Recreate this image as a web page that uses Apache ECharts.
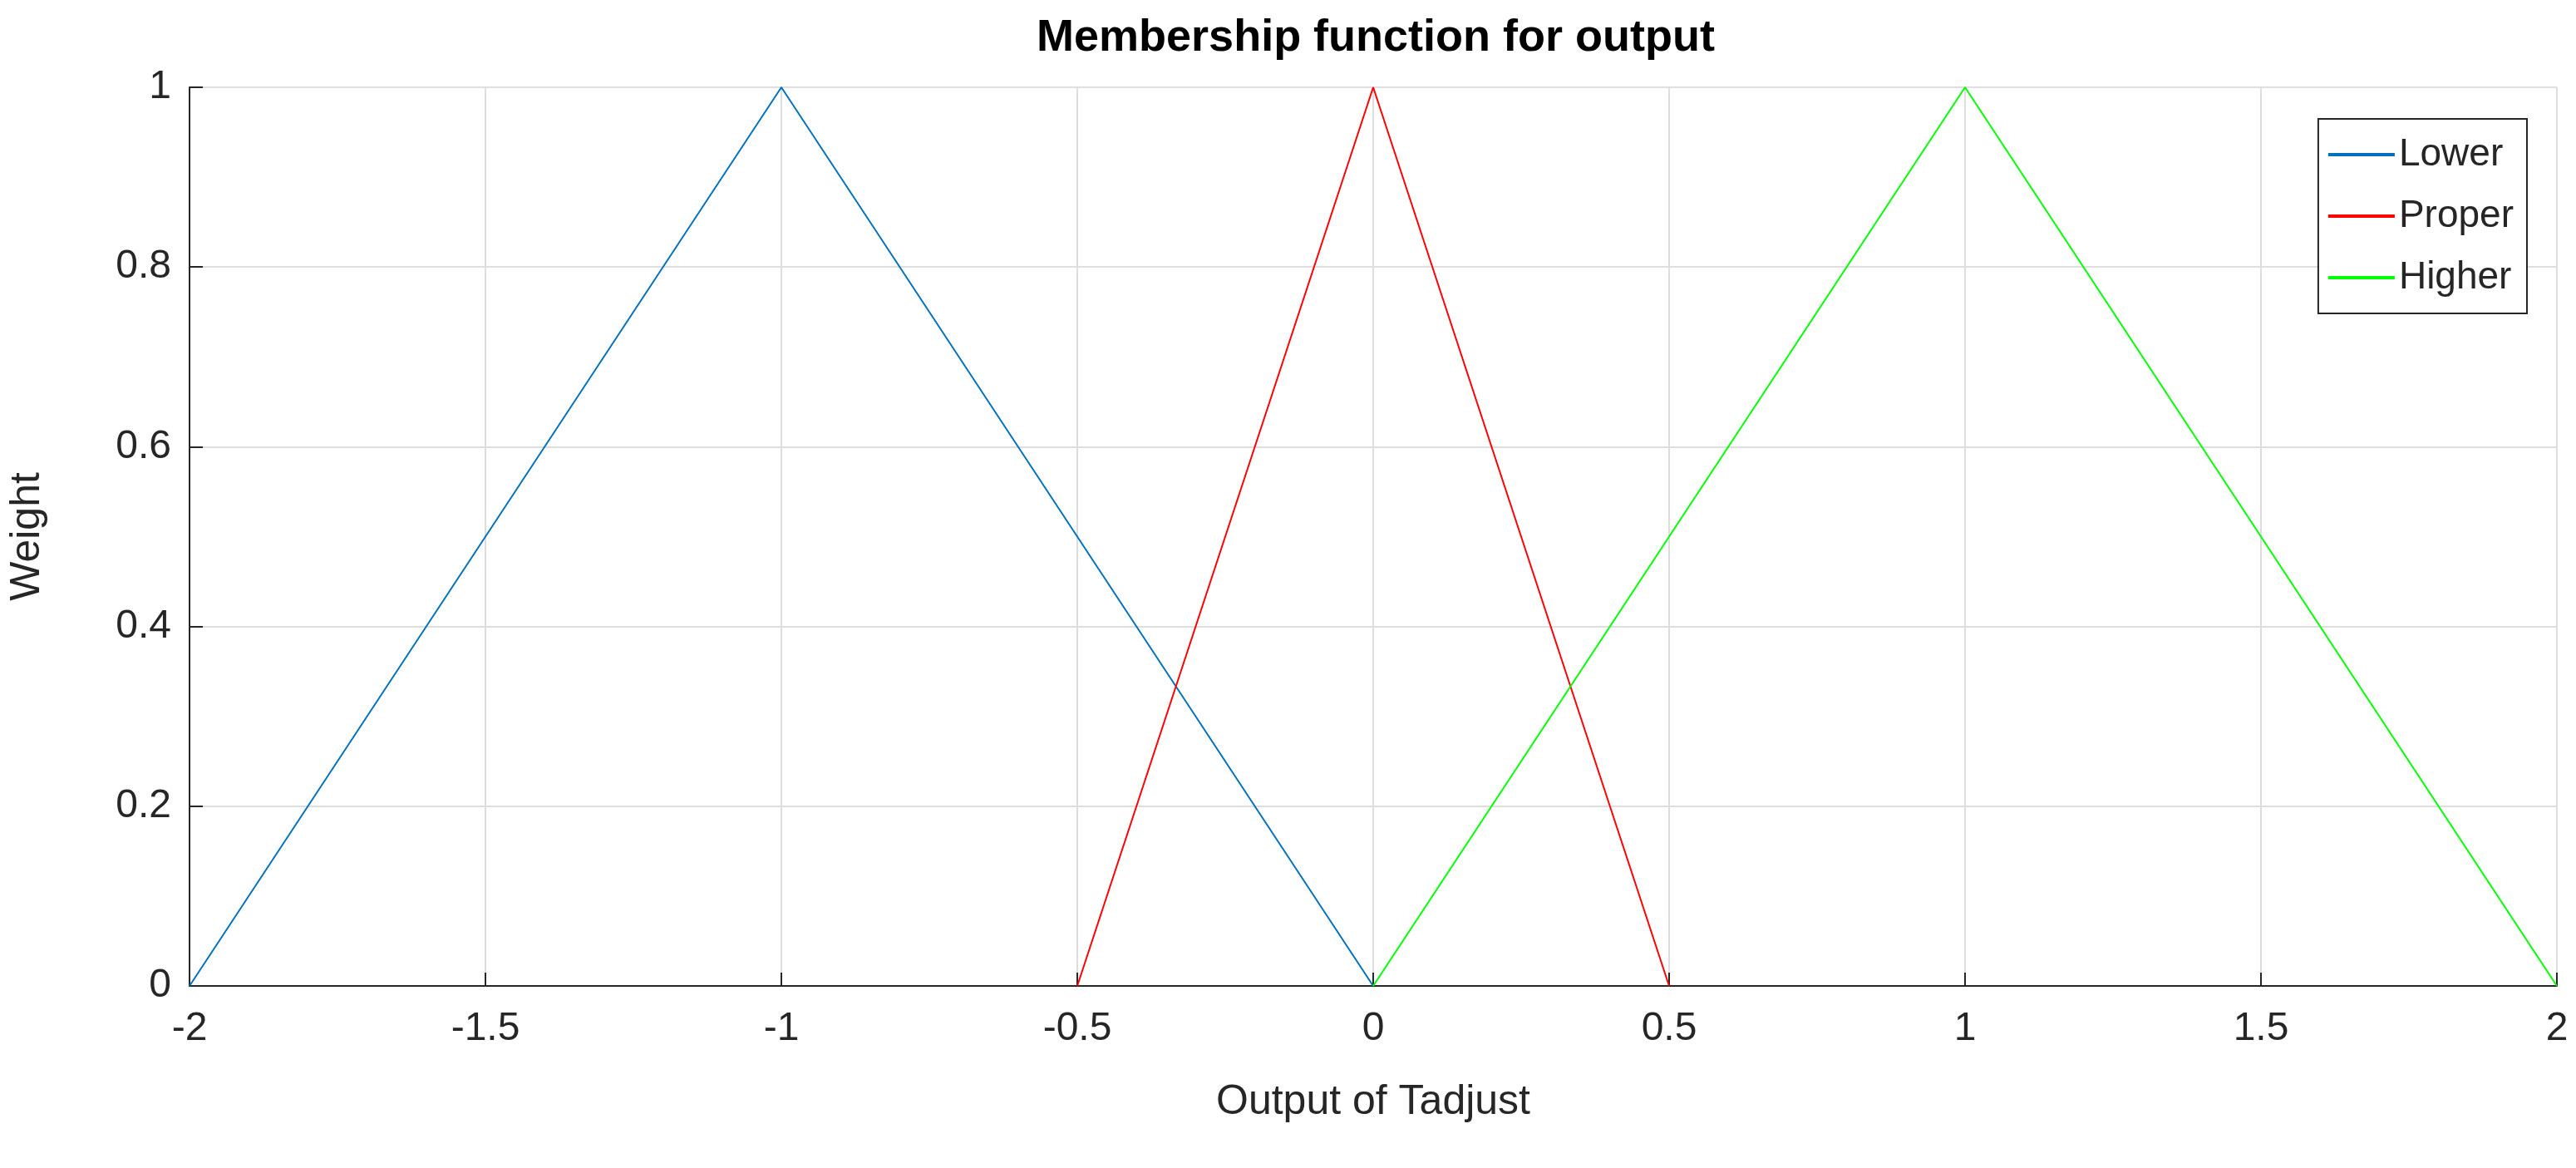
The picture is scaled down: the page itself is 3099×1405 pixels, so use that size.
<!DOCTYPE html>
<html>
<head>
<meta charset="utf-8">
<title>Membership function</title>
<script src="https://cdn.jsdelivr.net/npm/echarts@6/dist/echarts.min.js"></script>
<style>html,body{margin:0;background:#fff}</style>
</head>
<body>
<div id="main" style="width:3099px;height:1405px;"></div>
<script>
var xTicks = [-2, -1.5, -1, -0.5, 0, 0.5, 1, 1.5, 2];
var lowerPts = [[-2, 0], [-1, 1], [0, 0]];
var properPts = [[-0.5, 0], [0, 1], [0.5, 0]];
var higherPts = [[0, 0], [1, 1], [2, 0]];

var chart = echarts.init(document.getElementById('main'));
var font = 'Arial, "Liberation Sans", sans-serif';
var option = {
  animation: false,
  title: {
    text: 'Membership function for output',
    left: 1650, top: 14, textAlign: 'center',
    textStyle: {fontFamily: font, fontWeight: 'bold', fontSize: 54, color: '#000'}
  },
  legend: {
    right: 59, top: 143, orient: 'vertical',
    backgroundColor: '#fff', borderColor: '#262626', borderWidth: 2,
    padding: [20, 16, 20, 12], itemGap: 28,
    itemWidth: 80, itemHeight: 4, icon: 'rect',
    textStyle: {fontFamily: font, fontSize: 46, color: '#262626'},
    data: ['Lower', 'Proper', 'Higher']
  },
  grid: {left: 225, right: 23, top: 105, bottom: 219},
  xAxis: {
    type: 'value', min: -2, max: 2, interval: 0.5,
    name: 'Output of Tadjust', nameLocation: 'middle', nameGap: 115,
    nameTextStyle: {fontFamily: font, fontSize: 50, color: '#262626'},
    axisLine: {show: true, onZero: false, lineStyle: {color: '#262626', width: 2}},
    axisTick: {show: true, inside: true, length: 16, lineStyle: {color: '#262626', width: 2}},
    axisLabel: {fontFamily: font, fontSize: 48, color: '#262626', margin: 28,
      formatter: function (v) { return String(v); }},
    splitLine: {show: true, lineStyle: {color: '#dedede', width: 2}}
  },
  yAxis: {
    type: 'value', min: 0, max: 1, interval: 0.2,
    name: 'Weight', nameLocation: 'middle', nameGap: 170,
    nameTextStyle: {fontFamily: font, fontSize: 50, color: '#262626'},
    axisLine: {show: true, onZero: false, lineStyle: {color: '#262626', width: 2}},
    axisTick: {show: true, inside: true, length: 16, lineStyle: {color: '#262626', width: 2}},
    axisLabel: {fontFamily: font, fontSize: 48, color: '#262626', margin: 22,
      formatter: function (v) { return String(Math.round(v * 10) / 10); }},
    splitLine: {show: true, lineStyle: {color: '#dedede', width: 2}}
  },
  series: [
    {name: 'Lower', type: 'line', data: lowerPts, symbol: 'none', lineStyle: {color: '#0072BD', width: 2}, itemStyle: {color: '#0072BD'}},
    {name: 'Proper', type: 'line', data: properPts, symbol: 'none', lineStyle: {color: '#ff0000', width: 2}, itemStyle: {color: '#ff0000'}},
    {name: 'Higher', type: 'line', data: higherPts, symbol: 'none', lineStyle: {color: '#00ff00', width: 2}, itemStyle: {color: '#00ff00'}}
  ]
};
chart.setOption(option);
</script>
</body>
</html>
